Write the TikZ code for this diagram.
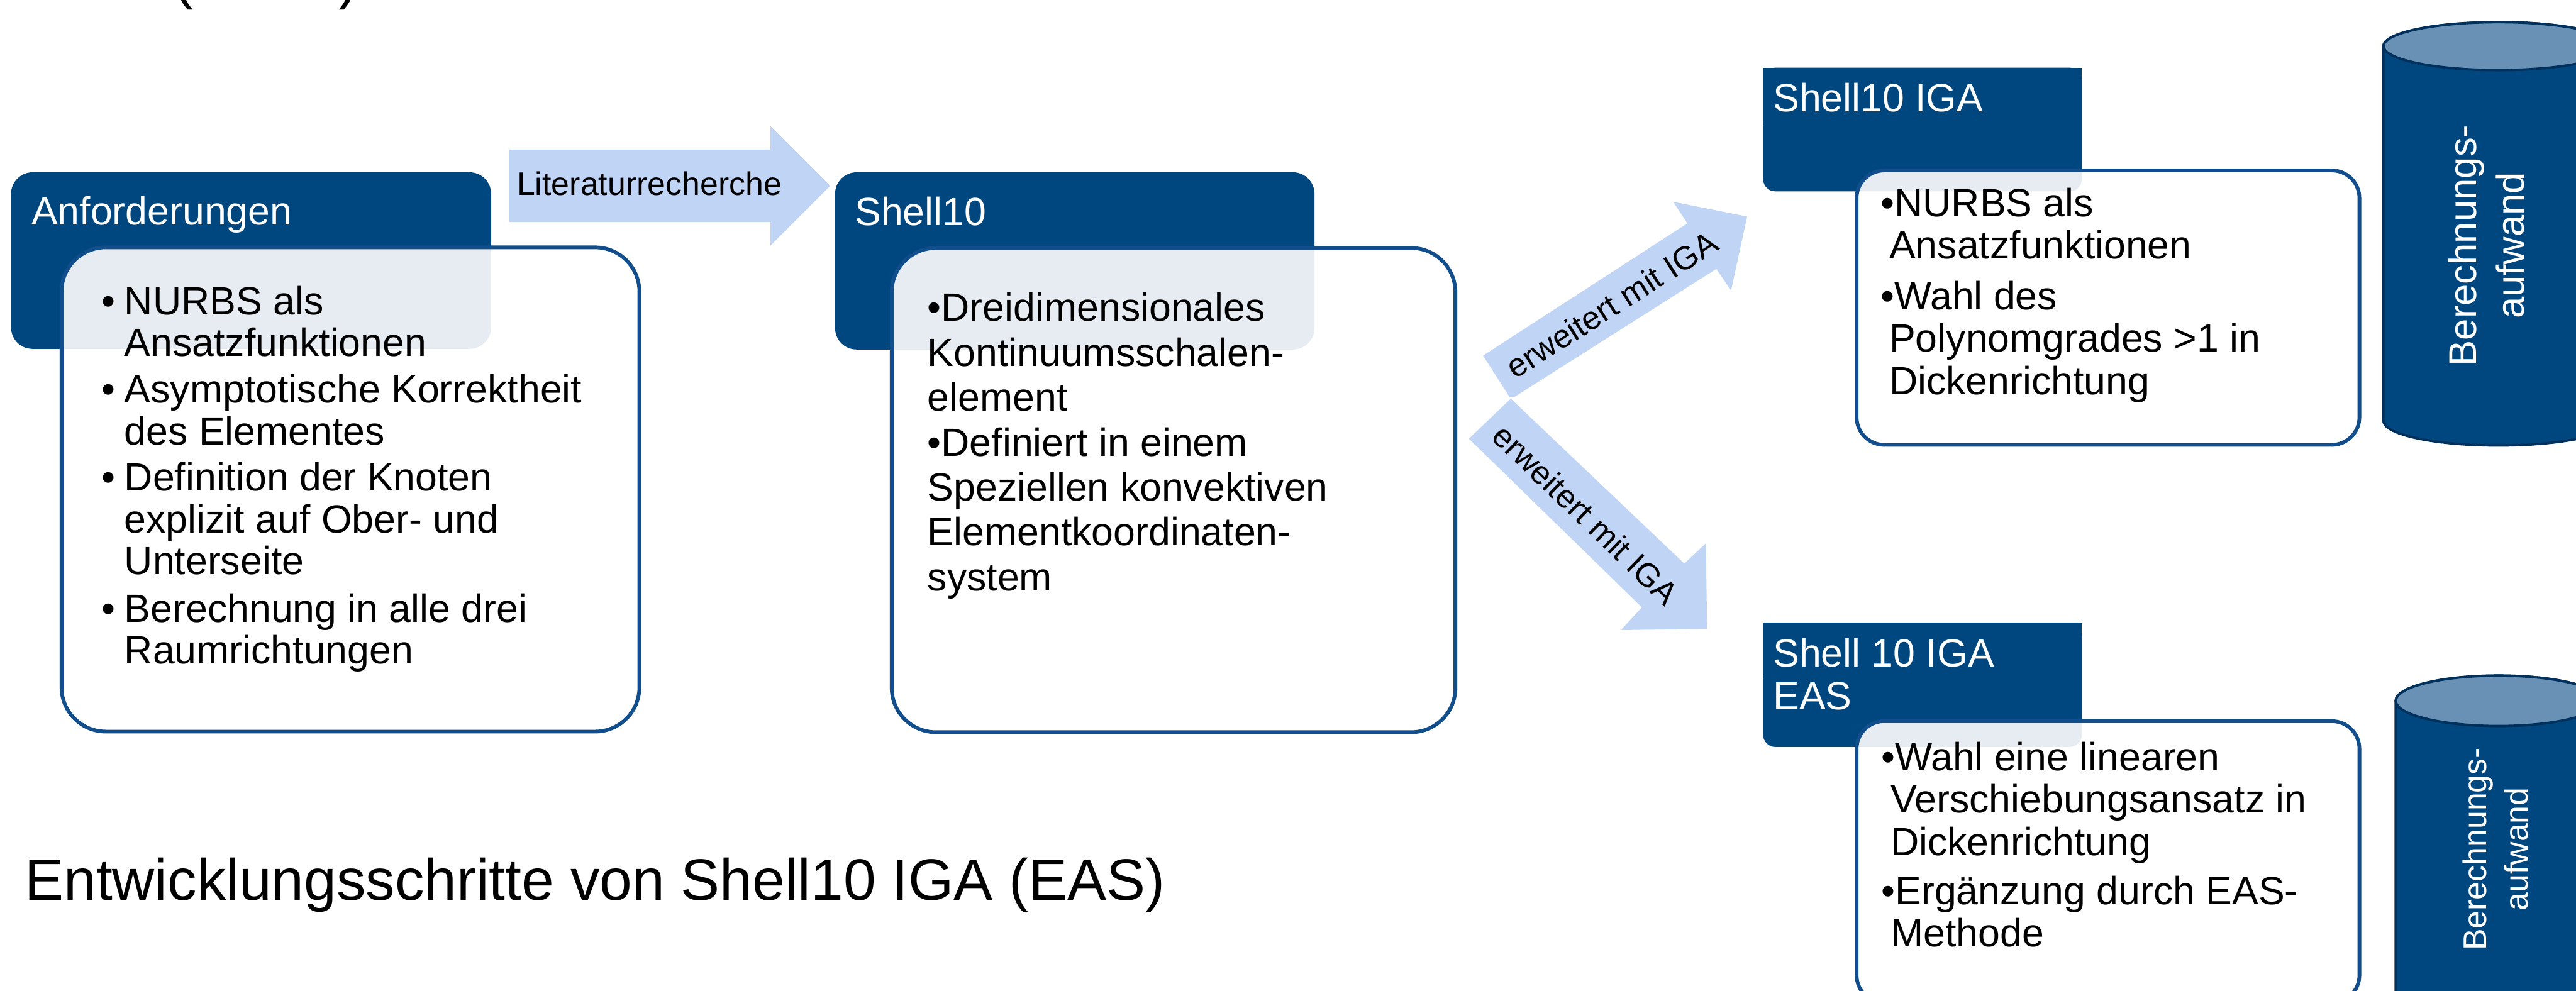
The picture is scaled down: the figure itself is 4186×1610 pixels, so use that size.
\documentclass[tikz,border=0pt]{standalone}
\usepackage{fontspec}
\setmainfont{Liberation Sans}
\definecolor{hdrblue}{RGB}{0,71,128}
\definecolor{boxblue}{RGB}{18,78,140}
\definecolor{arrowblue}{RGB}{192,212,246}
\definecolor{cyltop}{RGB}{104,145,181}
\definecolor{cyldark}{RGB}{0,48,92}
\begin{document}
\begin{tikzpicture}[x=1pt,y=-1pt,
  hdr/.style={fill=hdrblue},
  cbox/.style={fill=white, fill opacity=0.9, draw=boxblue, line width=6pt},
  blk/.style={fill=arrowblue},
  txt/.style={inner sep=0pt, anchor=base west, text=black},
  htxt/.style={inner sep=0pt, anchor=base west, text=white, font=\fontsize{64}{69}\selectfont},
  cyl/.style={fill=hdrblue, draw=cyldark, line width=4pt},
  cyltxt/.style={inner sep=0pt, anchor=base, text=white, rotate=90},
  lbl/.style={inner sep=0pt, text=black, font=\fontsize{53}{60}\selectfont}
]
\useasboundingbox (0,0) rectangle (4186,1610);
\clip (0,0) rectangle (4186,1610);
\fill[white] (0,0) rectangle (4186,1610);

% clipped title remnant at top
\node[txt, font=\fontsize{95}{110}\selectfont] (toptitle) at (282,-4) {(\hspace{237pt})};

% ---------- Anforderungen ----------
\fill[hdr, rounded corners=35pt] (18,280) rectangle (798,567);
\node[htxt] (anfhead) at (51,365) {Anforderungen};
\draw[cbox, rounded corners=72pt] (100,402) rectangle (1039,1189);
\node[txt, font=\fontsize{64}{68}\selectfont] (anftxt) at (165,511) {%
\begin{tabular}[t]{@{}l@{\hspace{14.6pt}}l@{}}
•&NURBS als\\ &Ansatzfunktionen\\[8pt]
•&Asymptotische Korrektheit\\ &des Elementes\\[7pt]
•&Definition der Knoten\\ &explizit auf Ober- und\\ &Unterseite\\[9pt]
•&Berechnung in alle drei\\ &Raumrichtungen
\end{tabular}};

% ---------- Literaturrecherche arrow ----------
\fill[blk] (828,243) -- (1252,243) -- (1252,205) -- (1349,302) -- (1252,399) -- (1252,361) -- (828,361) -- cycle;
\node[txt, font=\fontsize{53}{60}\selectfont] (lit) at (840,317) {Literaturrecherche};

% ---------- Shell10 ----------
\fill[hdr, rounded corners=35pt] (1357,280) rectangle (2136,568);
\node[htxt] (s10head) at (1389,366) {Shell10};
\draw[cbox, rounded corners=72pt] (1449,403) rectangle (2365,1190);
\node[txt, font=\fontsize{64}{73}\selectfont] (s10txt) at (1507,522) {%
\begin{tabular}[t]{@{}l@{}}
•Dreidimensionales\\
Kontinuumsschalen-\\
element\\
•Definiert in einem\\
Speziellen konvektiven\\
Elementkoordinaten-\\
system
\end{tabular}};

% ---------- erweitert arrows ----------
\fill[blk] (2410,578) -- (2742,363) -- (2719,328) -- (2839,352) -- (2813,472) -- (2789,437) -- (2461,645) -- (2453,645) -- cycle;
\node[lbl, rotate=32.5] (erw1) at (2619,495) {erweitert mit IGA};
\fill[blk] (2387,713) -- (2455,648) -- (2737,916) -- (2772,883) -- (2774,1022) -- (2634,1024) -- (2668,987) -- cycle;
\node[lbl, rotate=-44] (erw2) at (2577,836) {erweitert mit IGA};

% ---------- Shell10 IGA ----------
\fill[hdr, rounded corners=20pt] (2865,110) rectangle (3383,311);
\fill[hdr] (2865,110) rectangle (3383,200);
\node[htxt] (igahead) at (2881,181) {Shell10 IGA};
\draw[cbox, rounded corners=45pt] (3017,277) rectangle (3834,723);
\node[txt, font=\fontsize{64}{69}\selectfont] (igatxt) at (3056,352) {%
\begin{tabular}[t]{@{}l@{}}
•NURBS als\\
\hspace*{14pt}Ansatzfunktionen\\[13pt]
•Wahl des\\
\hspace*{14pt}Polynomgrades >1 in\\
\hspace*{14pt}Dickenrichtung
\end{tabular}};

% ---------- Shell 10 IGA EAS ----------
\fill[hdr, rounded corners=20pt] (2865,1012) rectangle (3383,1214);
\fill[hdr] (2865,1012) rectangle (3383,1100);
\node[htxt, align=left] (eashead) at (2881,1084) {%
\begin{tabular}[t]{@{}l@{}}Shell 10 IGA\\EAS\end{tabular}};
\draw[cbox, rounded corners=45pt] (3017,1172) rectangle (3834,1630);
\node[txt, font=\fontsize{64}{69}\selectfont] (eastxt) at (3057,1252) {%
\begin{tabular}[t]{@{}l@{}}
•Wahl eine linearen\\
\hspace*{15pt}Verschiebungsansatz in\\
\hspace*{15pt}Dickenrichtung\\[11pt]
•Ergänzung durch EAS-\\
\hspace*{15pt}Methode
\end{tabular}};

% ---------- cylinder 1 ----------
\path[cyl] (3873,75) -- (3873,684) arc[start angle=180, end angle=360, x radius=187pt, y radius=40pt] -- (4247,75) arc[start angle=0, end angle=180, x radius=187pt, y radius=39pt] -- cycle;
\draw[fill=cyltop, draw=cyldark, line width=4pt] (4060,75) ellipse [x radius=187pt, y radius=39pt];
\node[cyltxt, font=\fontsize{63}{80}\selectfont] (cyl1a) at (4024,399) {Berechnungs-};
\node[cyltxt, font=\fontsize{63}{80}\selectfont] (cyl1b) at (4102,399) {aufwand};

% ---------- cylinder 2 ----------
\path[cyl] (3893,1139) -- (3893,1750) -- (4227,1750) -- (4227,1139) arc[start angle=0, end angle=180, x radius=167pt, y radius=41pt] -- cycle;
\draw[fill=cyltop, draw=cyldark, line width=4pt] (4060,1139) ellipse [x radius=167pt, y radius=41pt];
\node[cyltxt, font=\fontsize{53}{68}\selectfont] (cyl2a) at (4040,1380) {Berechnungs-};
\node[cyltxt, font=\fontsize{53}{68}\selectfont] (cyl2b) at (4108,1380) {aufwand};

% ---------- title ----------
\node[txt, font=\fontsize{95}{110}\selectfont] (title) at (40,1463) {Entwicklungsschritte von Shell10 IGA (EAS)};
\end{tikzpicture}
\end{document}
